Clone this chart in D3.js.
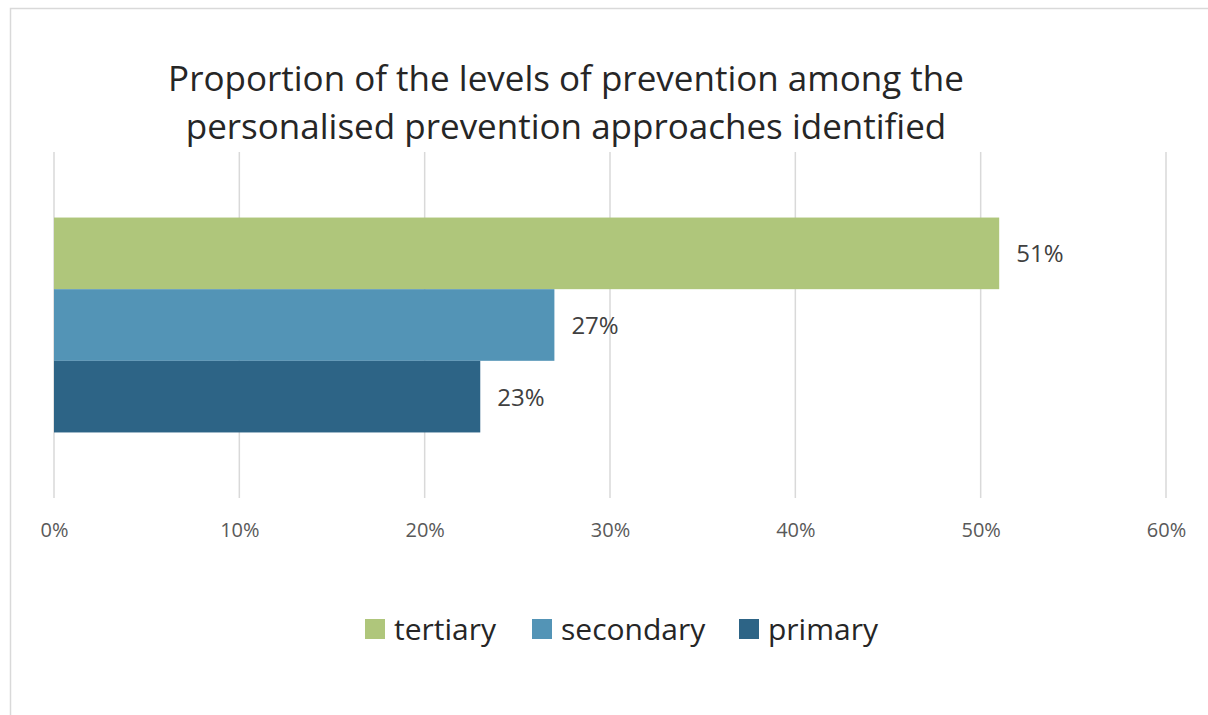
<!DOCTYPE html>
<html><head><meta charset="utf-8">
<script src="https://cdn.jsdelivr.net/npm/d3@7"></script>
<style>body{margin:0;background:#fff}svg{display:block}text{font-family:"Open Sans","Noto Sans",sans-serif}</style>
</head><body><svg id="c" width="1208" height="715"></svg>
<script>
const titleLines = ["Proportion of the levels of prevention among the","personalised prevention approaches identified"];
const series = ["tertiary","secondary","primary"];
const values = [0.51, 0.27, 0.23];
const colors = ["#afc67b","#5394b6","#2d6486"];
const ticks = [0,0.1,0.2,0.3,0.4,0.5,0.6];
const fmt = d3.format(".0%");

const svg = d3.select("#c");
// chart border (cropped on right and bottom)
svg.append("path").attr("d","M10.5,1000 V8.5 H1300").attr("fill","none").attr("stroke","#d9d9d9").attr("stroke-width",1.5);

const x = d3.scaleLinear().domain([0,0.6]).range([54,1166]);
const yCat = d3.scaleBand().domain(["all"]).range([152,498]).paddingOuter(0.305);
const y = d3.scaleBand().domain(series).range([yCat("all"), yCat("all")+yCat.bandwidth()]);

// gridlines
svg.append("g").selectAll("line").data(ticks).join("line")
  .attr("x1",d=>x(d)).attr("x2",d=>x(d)).attr("y1",152).attr("y2",498)
  .attr("stroke","#d9d9d9").attr("stroke-width",1.5);

// axis labels
const axis = d3.axisBottom(x).tickValues(ticks).tickFormat(fmt).tickSize(0).tickPadding(0);
const ag = svg.append("g").attr("transform","translate(0,537)").call(axis);
ag.select(".domain").remove();
ag.selectAll("text").attr("dy",0).attr("font-size",20).attr("fill","#595959").style("font-family",'"Open Sans",sans-serif');

// bars
svg.append("g").selectAll("rect").data(series).join("rect")
  .attr("x",x(0)).attr("y",d=>y(d)).attr("width",(d,i)=>x(values[i])-x(0)).attr("height",y.bandwidth())
  .attr("fill",(d,i)=>colors[i]);

// data labels
svg.append("g").selectAll("text").data(series).join("text")
  .attr("x",(d,i)=>x(values[i])+17).attr("y",d=>y(d)+y.bandwidth()/2+9)
  .attr("font-size",24).attr("fill","#404040").text((d,i)=>fmt(values[i]));

// title
svg.append("g").selectAll("text").data(titleLines).join("text")
  .attr("x",566).attr("y",(d,i)=>91+i*48).attr("text-anchor","middle")
  .attr("font-size",35).attr("fill","#262626").text(d=>d);

// legend
const lg = svg.append("g");
const lx = [365, 532, 739];
series.forEach((s,i)=>{
  lg.append("rect").attr("x",lx[i]).attr("y",619).attr("width",20).attr("height",20).attr("fill",colors[i]);
  lg.append("text").attr("x",lx[i]+29).attr("y",640).attr("font-size",30).attr("fill","#262626").text(s);
});
</script></body></html>
